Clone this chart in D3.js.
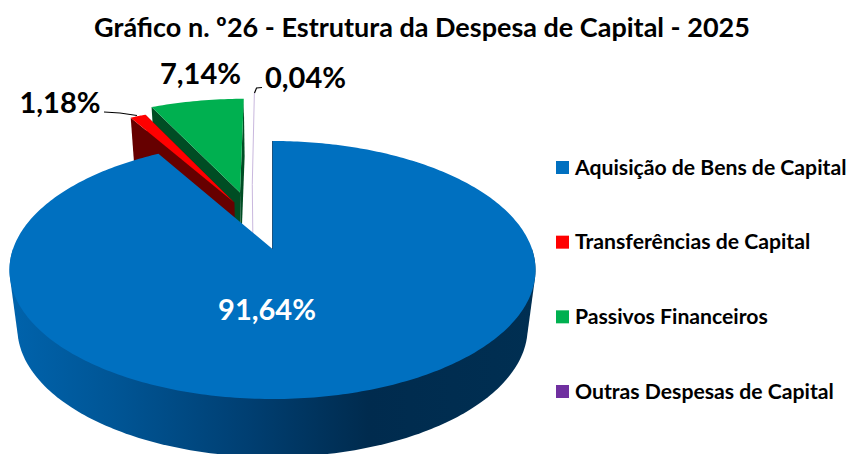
<!DOCTYPE html>
<html><head><meta charset="utf-8">
<style>html,body{margin:0;padding:0;background:#fff}svg{display:block}text{font-family:Lato,"Open Sans",sans-serif;font-weight:700}</style>
<script src="https://cdn.jsdelivr.net/npm/d3@7"></script></head>
<body><svg id="c" width="848" height="454"></svg>
<script>
const titleText = "Gráfico n. º26 - Estrutura da Despesa de Capital - 2025";
const categories = ["Aquisição de Bens de Capital","Transferências de Capital","Passivos Financeiros","Outras Despesas de Capital"];
const values = [91.64,1.18,7.14,0.04];
const valueLabels = ["91,64%","1,18%","7,14%","0,04%"];
const topColors = ["#0070C0","#FF0000","#00B050","#C9B8DE"];
const wallColors = ["#003A68","#660000","#004D24","#C9B8DE"];
const legendColors = ["#0070C0","#FF0000","#00B050","#7030A0"];

const W=848,H=454;
const svg=d3.select("#c");
// projection of the tilted pie plane
const cx=272.5, ay=249, a=259.5, b=125.6, k=0.1628;
const shade={dy:58,s:0.97};
const P=(u,v)=>[cx+a*u/(1-k*v), ay+b*v/(1-k*v)];
const low=p=>[cx+(p[0]-cx)*shade.s, p[1]+shade.dy];
// explosion offsets in plane units [u,v]
const explode=[[0,0],[-0.157,-0.395],[-0.135,-0.485],[-0.085,-0.56]];
const arcs=d3.pie().sort(null).value(d=>d).startAngle(0).endAngle(2*Math.PI)(values);
const pt=(ang,e)=>P(e[0]+Math.sin(ang), e[1]-Math.cos(ang));
const line=d3.line();
const arcPts=(s,e,off,n=120)=>d3.range(n+1).map(i=>pt(s+(e-s)*i/n,off));

const defs=svg.append("defs");
const g=defs.append("linearGradient").attr("id","wall").attr("gradientUnits","userSpaceOnUse")
 .attr("x1",10).attr("x2",537).attr("y1",0).attr("y2",0);
[[0,"#0063AC"],[0.2,"#005595"],[0.45,"#003F72"],[0.68,"#002B4E"],[1,"#002F52"]]
 .forEach(s=>g.append("stop").attr("offset",s[0]).attr("stop-color",s[1]));

const root=svg.append("g");
function face(pts,fill){return root.append("path").attr("d",line(pts)+"Z").attr("fill",fill);}

// exploded slices drawn back to front: purple, green, red
[2,1].forEach(i=>{
  const d=arcs[i],off=explode[i];
  const apex=P(off[0],off[1]);
  const A=pt(d.startAngle,off),B=pt(d.endAngle,off);
  face([apex,B,low(B),low(apex)],wallColors[i]);
  face([apex,A,low(A),low(apex)],wallColors[i]);
  face([apex,...arcPts(d.startAngle,d.endAngle,off,24)],topColors[i]);
});
// the sliver is thinner than a pixel: drawn as a hairline from rim to the foot of its wall
{
  const d=arcs[3],off=explode[3];
  const apex=P(off[0],off[1]);
  root.append("path").attr("d",line([pt(d.startAngle,off),apex,low(apex)]))
    .attr("fill","none").attr("stroke",topColors[3]).attr("stroke-width",1);
}

// main slice: wall is the hull of the front half of the rim and its lower copy
const d0=arcs[0],off0=explode[0];
const rim=arcPts(d0.startAngle,d0.endAngle,off0,360);
const front=arcPts(Math.PI/2,3*Math.PI/2,off0,180);
root.append("path").attr("d",line(d3.polygonHull([...front,...front.map(low)]))+"Z").attr("fill","url(#wall)");
face([P(0,0),...rim],topColors[0]);
root.append("path").attr("d",line([pt(d0.startAngle,off0),P(0,0)]))
  .attr("stroke","#003A68").attr("stroke-width",0.8).attr("fill","none");

// leader lines
[[[104,112],[120,113],[137,115.5]],[[262,87.5],[256.5,88],[254.5,93]]].forEach(l=>
  root.append("path").attr("d",line(l)).attr("fill","none").attr("stroke","#000").attr("stroke-width",1.2));

// labels
const lab=[{i:0,x:267,y:320,c:"#fff"},{i:1,x:60,y:113,c:"#000"},{i:2,x:200.5,y:84,c:"#000"},{i:3,x:305.5,y:88,c:"#000"}];
svg.selectAll("text.v").data(lab).join("text").attr("class","v")
 .attr("x",d=>d.x).attr("y",d=>d.y).attr("text-anchor","middle").attr("font-size",29)
 .attr("fill",d=>d.c).text(d=>valueLabels[d.i]);

// title
svg.append("text").attr("x",422).attr("y",37).attr("text-anchor","middle").attr("font-size",27).attr("fill","#000").text(titleText);

// legend
const ly=d3.scalePoint().domain(categories).range([167.5,391.5]);
const lg=svg.selectAll("g.l").data(categories).join("g").attr("class","l").attr("transform",d=>`translate(556,${ly(d)})`);
lg.append("rect").attr("x",0).attr("y",-6.5).attr("width",13).attr("height",13).attr("fill",(d,i)=>legendColors[i]);
lg.append("text").attr("x",19).attr("y",7).attr("font-size",21.2).attr("fill","#000").text(d=>d);
</script></body></html>
